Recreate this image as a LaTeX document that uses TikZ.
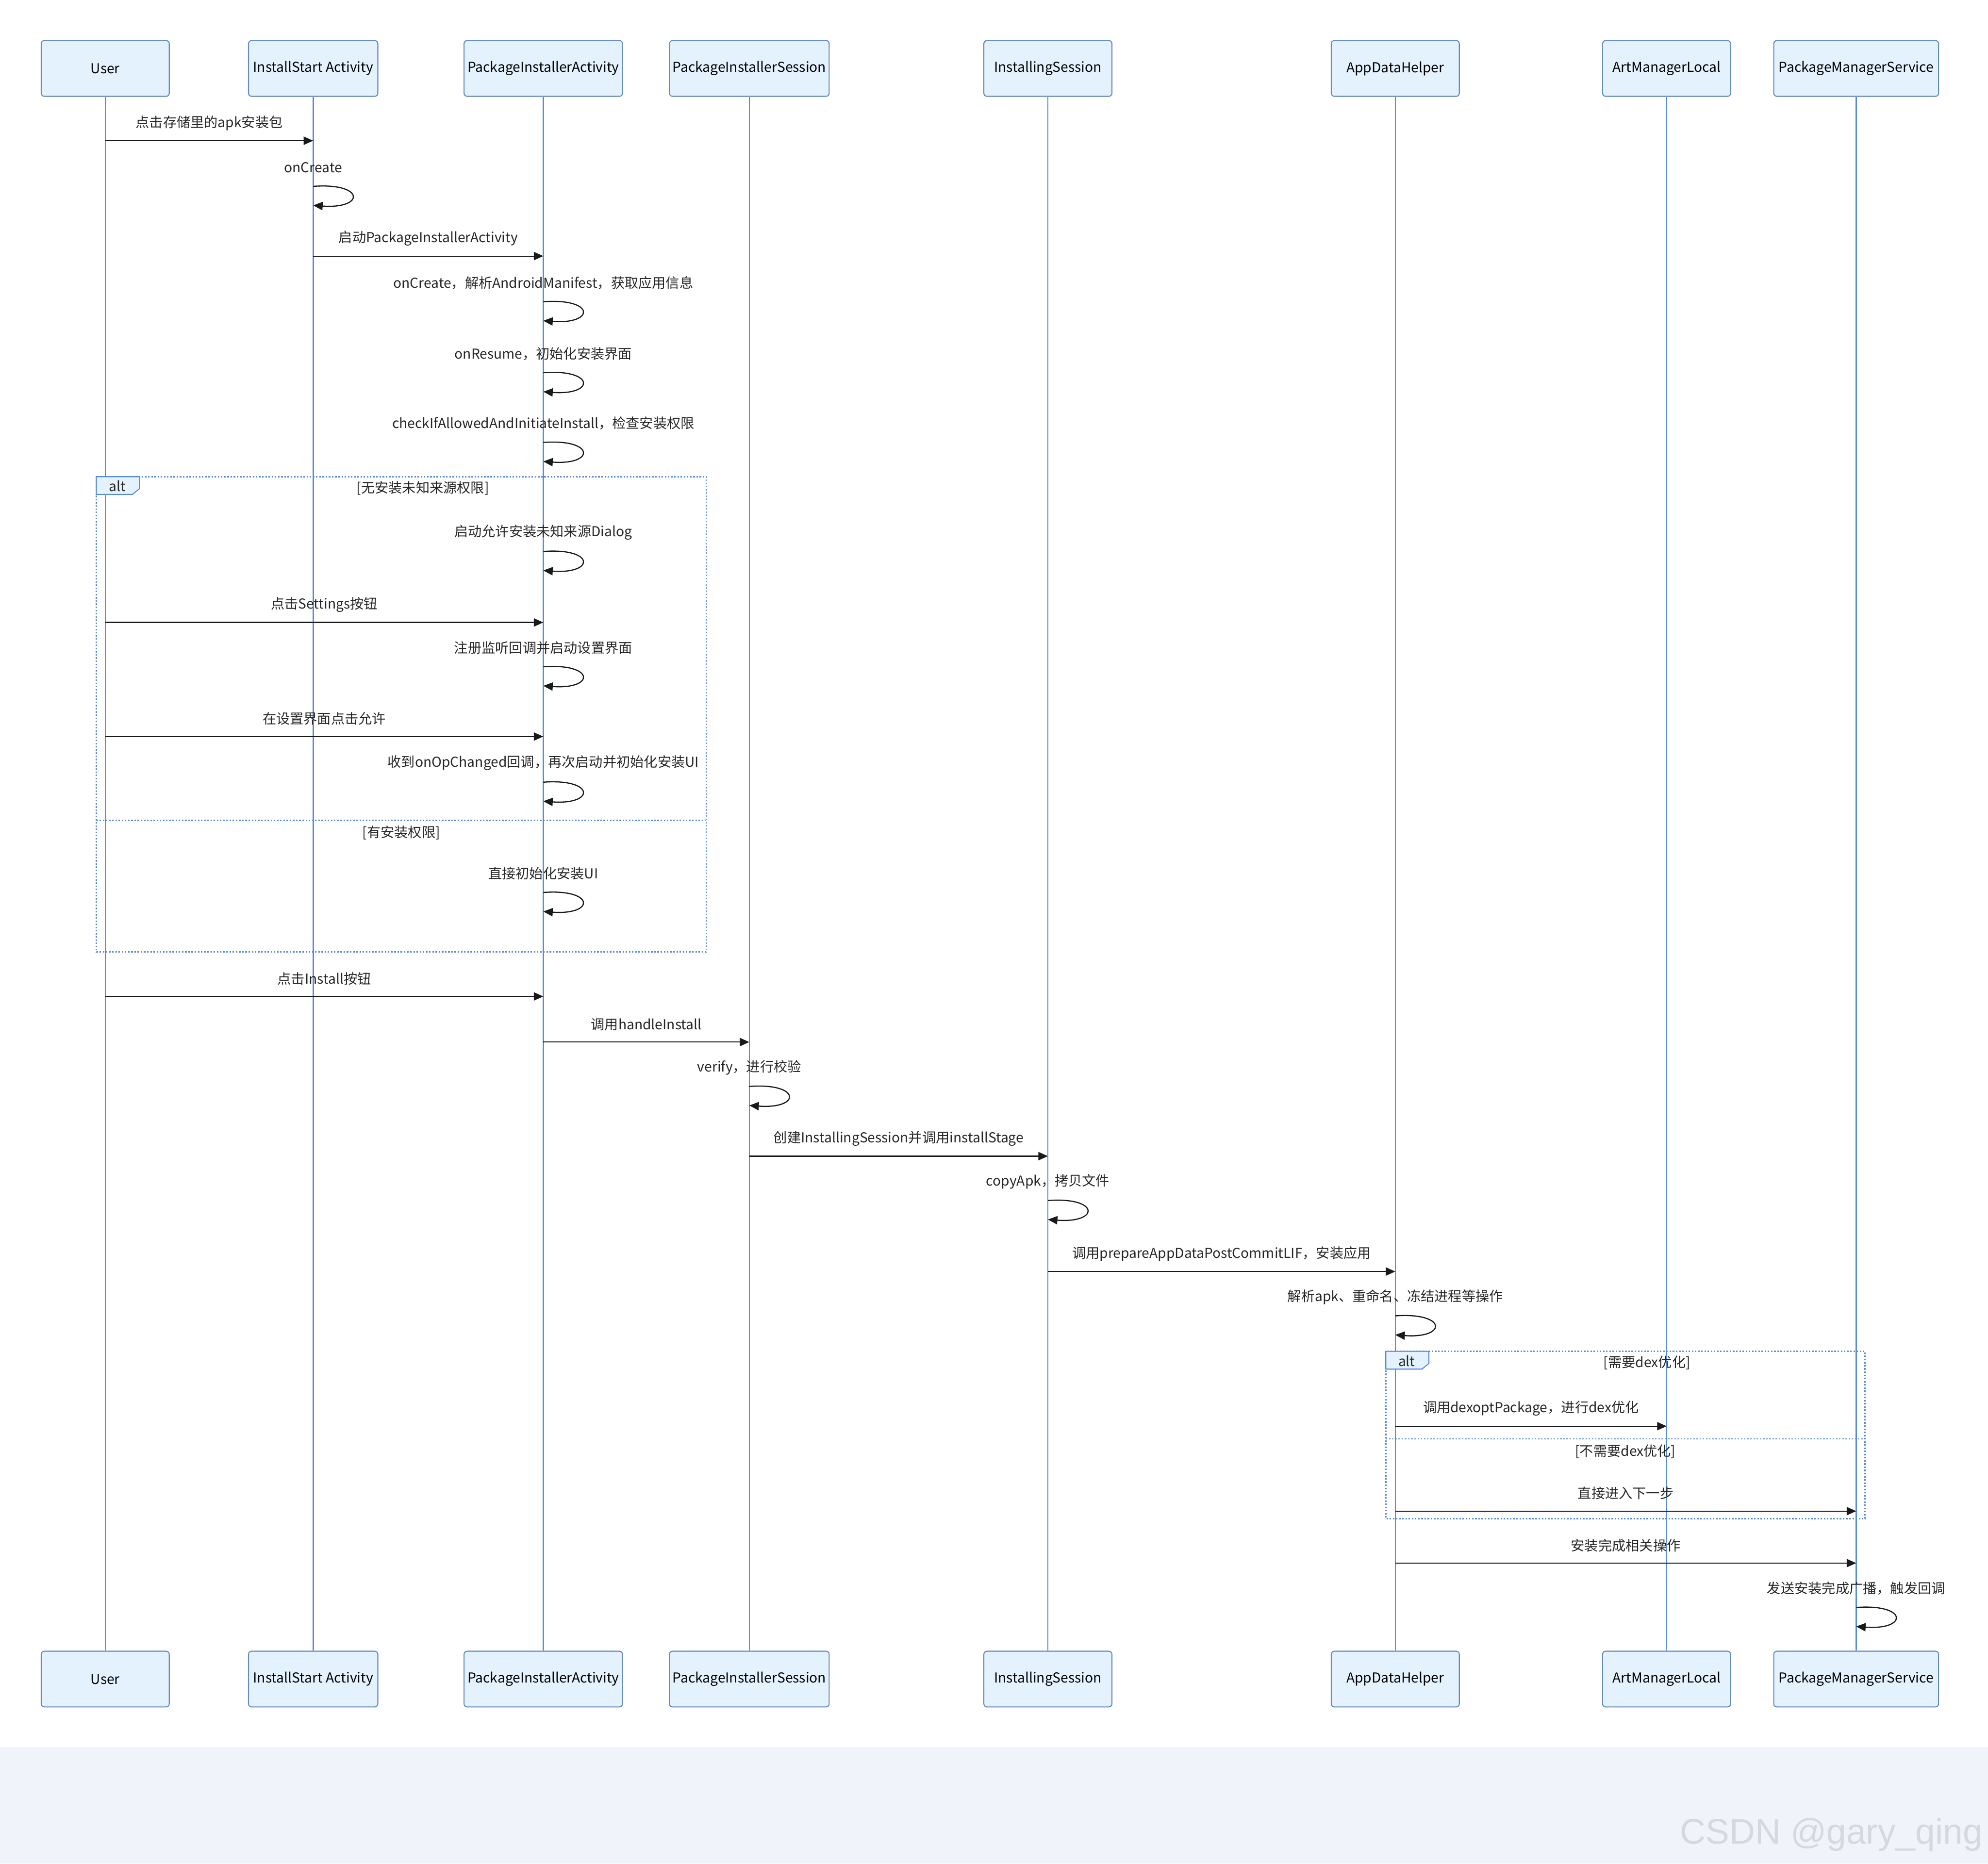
\documentclass[tikz,border=0pt]{standalone}
\usepackage{fontspec}
\setmainfont{Noto Sans CJK SC}
\newfontfamily\markfont{Liberation Sans}
\usepackage{tikz}
\usetikzlibrary{arrows.meta,positioning,calc}
\definecolor{seqfill}{RGB}{227,242,253}
\definecolor{seqedge}{RGB}{100,138,192}
\definecolor{seqline}{RGB}{84,140,224}
\definecolor{seqdot}{RGB}{88,138,218}
\definecolor{seqbg}{RGB}{240,243,249}
\definecolor{seqmark}{RGB}{214,216,221}
\newcommand{\seqfont}{\fontsize{10.8pt}{13pt}\selectfont}

\begin{document}
\begin{tikzpicture}[x=1pt,y=-1pt,font=\seqfont,
  actor/.style={draw=seqedge,fill=seqfill,line width=0.8pt,rounded corners=2.5pt,minimum height=44pt,inner sep=0pt,text=black},
  life/.style={seqline,line width=1pt},
  msg/.style={black!90,line width=0.9pt,-{Triangle[length=7.5pt,width=6.5pt]}},
  lbl/.style={inner sep=0pt,text=black!85},
  altframe/.style={seqdot,line width=1.1pt,dash pattern=on 1.2pt off 1.3pt},
  alttab/.style={draw=seqdot,fill=seqfill,line width=0.8pt}]
\useasboundingbox (0,0) rectangle (1568,1470);
\fill[white] (0,0) rectangle (1568,1378);
\fill[seqbg] (0,1378) rectangle (1568,1470);
% ---------------- participants and lifelines ----------------
\foreach \n/\x/\w/\t in {user/83/101/User,isa/247/102/InstallStart Activity,
    pia/428.5/125/PackageInstallerActivity,pis/591/126/PackageInstallerSession,
    ins/826.5/101/InstallingSession,adh/1100.5/101/AppDataHelper,
    aml/1314.5/101/ArtManagerLocal,pms/1464/130/PackageManagerService}{
  \node[actor,minimum width=\w pt] (\n-top) at (\x,54) {\t};
  \node[actor,minimum width=\w pt] (\n-bot) at (\x,1324.5) {\t};
  \draw[life] (\n-top) -- (\n-bot);}
% ---------------- alt: install permission ----------------
\draw[altframe] (76,376) rectangle (557,751);
\draw[altframe] (76,647) -- (557,647);
\draw[alttab] (76,376) -- ++(34,0) -- ++(0,9.5) -- ++(-5.5,4.5) -- (76,390) -- cycle;
\node[lbl] (alt1-tag) at (92.5,383.5) {alt};
\node[lbl] (alt1-if) at (333.5,385) {[无安装未知来源权限]};
\node[lbl] (alt1-else) at (316.5,657) {[有安装权限]};
% ---------------- alt: dex optimisation ----------------
\draw[altframe] (1093,1066) rectangle (1471,1198);
\draw[altframe] (1093,1135) -- (1471,1135);
\draw[alttab] (1093,1066) -- ++(34,0) -- ++(0,9.5) -- ++(-5.5,4.5) -- (1093,1080) -- cycle;
\node[lbl] (alt2-tag) at (1109.5,1073.5) {alt};
\node[lbl] (alt2-if) at (1299,1075) {[需要dex优化]};
\node[lbl] (alt2-else) at (1282,1145) {[不需要dex优化]};
% ---------------- messages ----------------
\foreach \f/\t/\y/\l [count=\i] in {user/isa/111/点击存储里的apk安装包,
    isa/pia/202/启动PackageInstallerActivity,user/pia/491/点击Settings按钮,
    user/pia/581/在设置界面点击允许,user/pia/786/点击Install按钮,
    pia/pis/822/调用handleInstall,pis/ins/912/创建InstallingSession并调用installStage,
    ins/adh/1003/调用prepareAppDataPostCommitLIF，安装应用,
    adh/aml/1125/调用dexoptPackage，进行dex优化,adh/pms/1192/直接进入下一步,
    adh/pms/1233/安装完成相关操作}{
  \draw[msg] (\f-top |- 0,\y) -- node[lbl,yshift=14pt] (msg\i) {\l} (\t-top |- 0,\y);}
% ---------------- self calls ----------------
\foreach \n/\y/\l [count=\i] in {isa/146/onCreate,
    pia/237/onCreate，解析AndroidManifest，获取应用信息,pia/293/onResume，初始化安装界面,
    pia/348/checkIfAllowedAndInitiateInstall，检查安装权限,pia/434/启动允许安装未知来源Dialog,
    pia/525/注册监听回调并启动设置界面,pia/616/收到onOpChanged回调，再次启动并初始化安装UI,
    pia/703/直接初始化安装UI,pis/856/verify，进行校验,ins/946/copyApk，拷贝文件,
    adh/1037/解析apk、重命名、冻结进程等操作,pms/1267/发送安装完成广播，触发回调}{
  \node[lbl] (self\i) at (\n-top |- 0,\y-14) {\l};
  \draw[msg] (\n-top |- 0,\y+1) .. controls +(41,-3) and +(41,3) .. (\n-top |- 0,\y+16);}
% ---------------- watermark ----------------
\node[anchor=base west,inner sep=0pt,text=seqmark,font=\markfont\fontsize{28pt}{29pt}\selectfont] (mark) at (1325,1454.5) {CSDN @gary\_qing};
\end{tikzpicture}
\end{document}
